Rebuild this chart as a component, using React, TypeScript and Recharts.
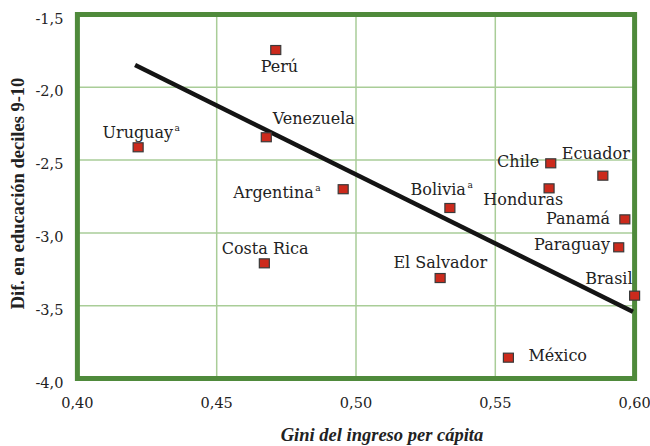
import React from "react";
import {
  ScatterChart,
  Scatter,
  XAxis,
  YAxis,
  CartesianGrid,
  ReferenceLine,
  ReferenceArea,
} from "recharts";

const countries = [
  "Perú", "Venezuela", "Uruguay", "Argentina", "Costa Rica", "Bolivia", "El Salvador",
  "Chile", "Honduras", "Ecuador", "Panamá", "Paraguay", "Brasil", "México",
];
const gini = [0.4712, 0.4678, 0.4218, 0.4954, 0.4671, 0.5337, 0.5302, 0.5699, 0.5693, 0.5886, 0.5965, 0.5943, 0.6, 0.5547];
const eduGap = [-1.744, -2.343, -2.412, -2.7, -3.209, -2.829, -3.31, -2.522, -2.694, -2.607, -2.907, -3.099, -3.431, -3.857];
const withNote = ["Uruguay", "Argentina", "Bolivia"];

const xTicks = [0.4, 0.45, 0.5, 0.55, 0.6];
const yTicks = [-4, -3.5, -3, -2.5, -2, -1.5];

// fitted line ends
const trendX = [0.4207, 0.5994];
const trendY = [-1.847, -3.541];

const points = countries.map((name, i) => ({ name, x: gini[i], y: eduGap[i] }));

// label placement around each square: [dx, dy(baseline), anchor]
const labelPos: Record<string, [number, number, "start" | "middle" | "end"]> = {
  "Perú": [3.6, 21.7, "middle"],
  Venezuela: [6.4, -13, "start"],
  Uruguay: [-35.6, -9.6, "start"],
  Argentina: [-110, 9, "start"],
  "Costa Rica": [-42.6, -9.3, "start"],
  Bolivia: [-39.3, -13, "start"],
  "El Salvador": [-46.7, -9.7, "start"],
  Chile: [-11.4, 3.4, "end"],
  Honduras: [-65.7, 16.7, "start"],
  Ecuador: [-41, -16.4, "start"],
  "Panamá": [-14.7, 4.7, "end"],
  Paraguay: [-8.7, 3, "end"],
  Brasil: [-2, -11.4, "end"],
  "México": [20, 3, "start"],
};

const serif = "'DejaVu Serif', serif";
const titleFont = "'Liberation Serif', serif";
const ink = "#222";

const Square = (props: any) => {
  const { cx, cy, payload } = props;
  const [dx, dy, anchor] = labelPos[payload.name] || [8, 4, "start"];
  const note = withNote.includes(payload.name);
  return (
    <g>
      <rect x={cx - 5} y={cy - 4.5} width={10} height={9} fill="#cc2a1c" stroke="#3a3a3a" strokeWidth={1.2} />
      <text x={cx + dx} y={cy + dy} textAnchor={anchor} fontFamily={serif} fontSize={16} fill={ink}>
        {payload.name}
        {note && (
          <tspan dx={1.5} dy={-7} fontSize={9}>
            a
          </tspan>
        )}
      </text>
    </g>
  );
};

const XTick = (props: any) => {
  const { x, y, payload } = props;
  return (
    <text x={x} y={y + 11} textAnchor="middle" fontFamily={serif} fontSize={14.5} fill={ink}>
      {payload.value.toFixed(2).replace(".", ",")}
    </text>
  );
};

const YTick = (props: any) => {
  const { x, y, payload } = props;
  return (
    <text x={x} y={y + 9} textAnchor="end" fontFamily={serif} fontSize={14.5} fill={ink}>
      {payload.value.toFixed(1).replace(".", ",")}
    </text>
  );
};

export default function App() {
  return (
    <div style={{ position: "absolute", left: 0, top: 0, background: "#fff" }}>
      <ScatterChart width={650} height={446} margin={{ top: 14.5, right: 15.4, left: 17.4, bottom: 37.5 }}>
        <CartesianGrid stroke="#a9cd98" strokeWidth={1.5} />
        <XAxis
          type="number"
          dataKey="x"
          domain={[0.4, 0.6]}
          ticks={xTicks}
          axisLine={false}
          tickLine={false}
          tickSize={0}
          tickMargin={18}
          height={30}
          tick={<XTick />}
          label={{
            content: ({ viewBox }: any) => (
              <text
                x={viewBox.x + viewBox.width / 2 + 26}
                y={viewBox.y + 62}
                textAnchor="middle"
                fontFamily={titleFont}
                fontStyle="italic"
                fontWeight="bold"
                fontSize={18.5}
                fill={ink}
              >
                Gini del ingreso per cápita
              </text>
            ),
          }}
        />
        <YAxis
          type="number"
          dataKey="y"
          domain={[-4, -1.5]}
          ticks={yTicks}
          axisLine={false}
          tickLine={false}
          tickSize={0}
          tickMargin={14}
          width={60}
          tick={<YTick />}
          label={{
            content: ({ viewBox }: any) => {
              const cx = viewBox.x + 1;
              const cy = viewBox.y + viewBox.height / 2 - 3;
              return (
                <text
                  x={cx}
                  y={cy}
                  transform={`rotate(-90, ${cx}, ${cy})`}
                  textAnchor="middle"
                  dominantBaseline="central"
                  fontFamily={titleFont}
                  fontWeight="bold"
                  fontSize={18.5}
                  fill={ink}
                >
                  Dif. en educación deciles 9-10
                </text>
              );
            },
          }}
        />
        <ReferenceArea x1={0.4} x2={0.6} y1={-4} y2={-1.5} fill="none" stroke="#4f8a3b" strokeWidth={5} strokeOpacity={1} />
        <ReferenceLine
          segment={[
            { x: trendX[0], y: trendY[0] },
            { x: trendX[1], y: trendY[1] },
          ]}
          stroke="#141414"
          strokeWidth={4.5}
        />
        <Scatter data={points} shape={<Square />} isAnimationActive={false} />
      </ScatterChart>
    </div>
  );
}
